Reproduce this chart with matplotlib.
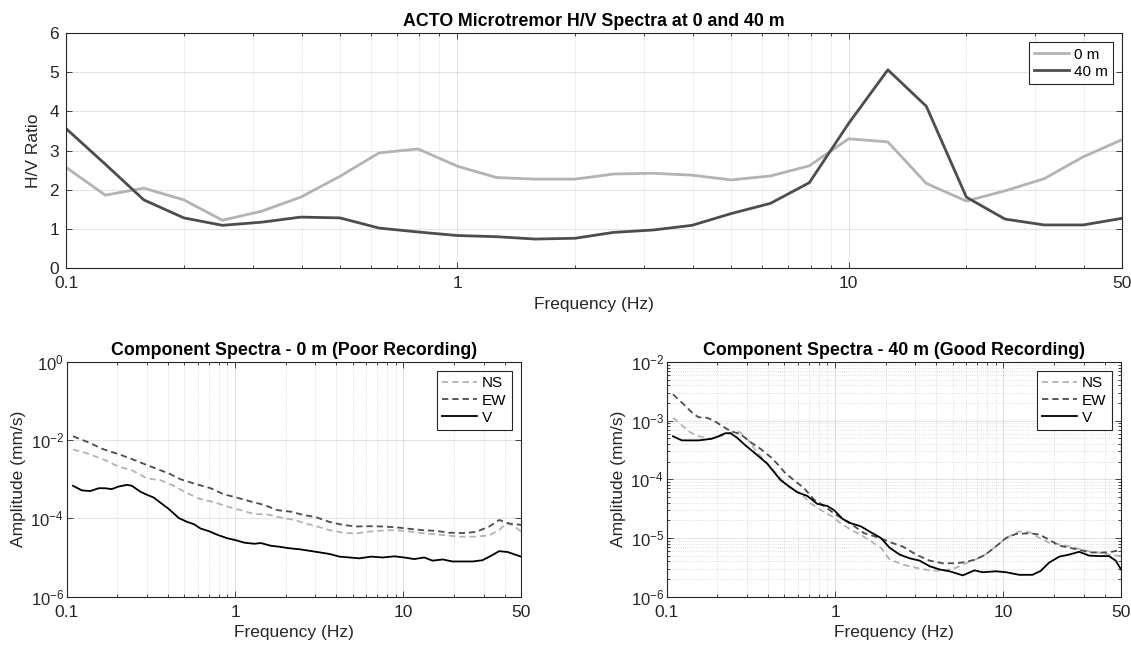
import matplotlib
matplotlib.use("Agg")
import matplotlib.pyplot as plt
from matplotlib.ticker import FixedLocator, LogLocator, NullFormatter, LogFormatterSciNotation

# Curvas H/V (pontos a cada 0.1 decada)
freq_hv = [0.1, 0.126, 0.158, 0.2, 0.251, 0.316, 0.398, 0.501, 0.631, 0.794,
           1.0, 1.26, 1.58, 2.0, 2.51, 3.16, 3.98, 5.01, 6.31, 7.94,
           10.0, 12.6, 15.8, 20.0, 25.1, 31.6, 39.8, 50.1]
hv_0m = [2.57, 1.86, 2.04, 1.74, 1.22, 1.45, 1.81, 2.34, 2.94, 3.04,
         2.60, 2.31, 2.27, 2.27, 2.40, 2.42, 2.37, 2.25, 2.35, 2.61,
         3.30, 3.22, 2.16, 1.71, 1.97, 2.28, 2.84, 3.28]
hv_40m = [3.56, 2.65, 1.74, 1.28, 1.09, 1.17, 1.30, 1.28, 1.02, 0.92,
          0.83, 0.80, 0.74, 0.76, 0.91, 0.97, 1.09, 1.39, 1.65, 2.18,
          3.69, 5.06, 4.13, 1.81, 1.25, 1.10, 1.10, 1.27]

# Espectros 0 m
f_ns0 = [0.109, 0.132, 0.166, 0.203, 0.244, 0.300, 0.361, 0.432, 0.520, 0.624,
         0.750, 0.900, 1.08, 1.30, 1.56, 1.87, 2.25, 2.53, 3.03, 3.64,
         4.37, 5.24, 6.28, 7.53, 9.06, 10.9, 13.0, 15.6, 18.7, 22.5,
         27.0, 32.4, 37.1, 40.6, 44.5, 50.0]
ns_0m = [5.8e-3, 4.6e-3, 3.2e-3, 2.1e-3, 1.7e-3, 1.05e-3, 9.5e-4, 6.8e-4, 4.4e-4, 3.1e-4,
         2.6e-4, 2.0e-4, 1.62e-4, 1.29e-4, 1.26e-4, 1.05e-4, 9.1e-5, 7.8e-5, 6.3e-5, 5.0e-5,
         4.3e-5, 4.1e-5, 4.6e-5, 4.9e-5, 5.0e-5, 4.6e-5, 4.2e-5, 3.9e-5, 3.6e-5, 3.4e-5,
         3.4e-5, 3.7e-5, 5.0e-5, 7.4e-5, 6.8e-5, 4.6e-5]
f_ew0 = [0.109, 0.132, 0.166, 0.203, 0.239, 0.300, 0.404, 0.474, 0.569, 0.716,
         0.859, 1.0, 1.24, 1.49, 1.79, 2.15, 2.53, 3.03, 3.64, 4.37,
         5.24, 6.28, 7.53, 9.06, 10.9, 13.0, 15.6, 18.7, 22.5, 27.0,
         32.4, 37.1, 42.5, 50.0]
ew_0m = [1.26e-2, 9.1e-3, 5.8e-3, 4.4e-3, 3.4e-3, 2.3e-3, 1.41e-3, 1.0e-3, 7.8e-4, 5.9e-4,
         4.1e-4, 3.5e-4, 2.7e-4, 2.2e-4, 1.62e-4, 1.48e-4, 1.23e-4, 1.07e-4, 8.1e-5, 6.8e-5,
         6.2e-5, 6.3e-5, 6.2e-5, 5.9e-5, 5.4e-5, 5.0e-5, 4.8e-5, 4.3e-5, 4.2e-5, 4.5e-5,
         6.2e-5, 9.1e-5, 7.4e-5, 6.8e-5]
f_v0 = [0.109, 0.123, 0.138, 0.155, 0.169, 0.185, 0.203, 0.228, 0.244, 0.274,
        0.300, 0.329, 0.361, 0.404, 0.463, 0.520, 0.569, 0.624, 0.700, 0.785,
        0.900, 1.0, 1.13, 1.30, 1.42, 1.63, 1.87, 2.05, 2.42, 2.77,
        3.18, 3.64, 4.18, 4.79, 5.48, 6.43, 7.53, 8.85, 10.1, 11.6,
        13.3, 14.9, 17.1, 19.6, 22.5, 25.8, 29.5, 33.1, 37.1, 41.6, 50.0]
v_0m = [6.8e-4, 5.2e-4, 5.0e-4, 5.9e-4, 5.9e-4, 5.6e-4, 6.5e-4, 7.2e-4, 6.8e-4, 4.8e-4,
        4.0e-4, 3.4e-4, 2.5e-4, 1.74e-4, 1.02e-4, 8.1e-5, 7.1e-5, 5.5e-5, 4.7e-5, 3.8e-5,
        3.1e-5, 2.8e-5, 2.4e-5, 2.24e-5, 2.34e-5, 2.0e-5, 1.86e-5, 1.74e-5, 1.62e-5, 1.48e-5,
        1.35e-5, 1.23e-5, 1.05e-5, 1.0e-5, 9.5e-6, 1.05e-5, 1.0e-5, 1.07e-5, 1.0e-5, 9.1e-6,
        1.0e-5, 8.3e-6, 8.9e-6, 7.9e-6, 7.9e-6, 7.9e-6, 8.5e-6, 1.1e-5, 1.45e-5, 1.38e-5, 1.05e-5]

# Espectros 40 m
f_ns40 = [0.109, 0.123, 0.138, 0.155, 0.181, 0.218, 0.250, 0.274, 0.300, 0.344,
          0.414, 0.474, 0.544, 0.624, 0.716, 0.822, 0.944, 1.08, 1.24, 1.42,
          1.63, 1.87, 2.11, 2.53, 3.03, 3.64, 4.37, 5.24, 6.0, 6.85,
          7.83, 9.04, 10.4, 12.4, 14.3, 16.4, 18.7, 21.5, 24.6, 28.2,
          32.3, 37.0, 42.4, 50.0]
ns_40m = [1.12e-3, 8.3e-4, 6.3e-4, 5.4e-4, 4.9e-4, 5.6e-4, 6.5e-4, 6.3e-4, 4.9e-4, 2.9e-4,
          1.62e-4, 1.03e-4, 7.0e-5, 5.8e-5, 3.9e-5, 3.0e-5, 2.4e-5, 1.78e-5, 1.38e-5, 1.14e-5,
          8.8e-6, 6.8e-6, 4.3e-6, 3.5e-6, 3.1e-6, 2.8e-6, 2.75e-6, 3.1e-6, 3.7e-6, 4.3e-6,
          5.2e-6, 7.2e-6, 1.0e-5, 1.29e-5, 1.25e-5, 1.0e-5, 8.3e-6, 7.8e-6, 7.2e-6, 6.5e-6,
          5.9e-6, 5.6e-6, 5.2e-6, 4.9e-6]
f_ew40 = [0.109, 0.126, 0.144, 0.155, 0.173, 0.190, 0.208, 0.228, 0.244, 0.274,
          0.314, 0.361, 0.414, 0.453, 0.508, 0.569, 0.653, 0.750, 0.859, 0.990,
          1.13, 1.30, 1.49, 1.71, 1.96, 2.11, 2.53, 3.03, 3.64, 4.37,
          5.24, 6.0, 6.85, 7.83, 9.04, 10.4, 11.9, 14.3, 16.4, 18.7,
          21.5, 24.6, 28.2, 32.3, 37.0, 42.4, 50.0]
ew_40m = [2.8e-3, 1.9e-3, 1.3e-3, 1.14e-3, 1.12e-3, 1.0e-3, 8.5e-4, 7.2e-4, 6.5e-4, 5.9e-4,
          4.3e-4, 3.3e-4, 2.4e-4, 1.85e-4, 1.26e-4, 9.7e-5, 7.1e-5, 4.5e-5, 3.5e-5, 2.6e-5,
          2.04e-5, 1.58e-5, 1.2e-5, 1.07e-5, 9.3e-6, 8.5e-6, 7.1e-6, 5.2e-6, 4.1e-6, 3.7e-6,
          3.7e-6, 3.9e-6, 4.3e-6, 5.2e-6, 7.2e-6, 1.0e-5, 1.17e-5, 1.2e-5, 1.14e-5, 9.3e-6,
          7.4e-6, 6.8e-6, 6.3e-6, 5.7e-6, 5.6e-6, 5.7e-6, 6.2e-6]
f_v40 = [0.109, 0.123, 0.155, 0.185, 0.203, 0.223, 0.239, 0.262, 0.293, 0.344,
         0.395, 0.433, 0.474, 0.532, 0.596, 0.684, 0.785, 0.900, 0.990, 1.11,
         1.24, 1.42, 1.63, 1.87, 2.11, 2.42, 2.77, 3.18, 3.64, 4.18,
         4.79, 5.74, 6.73, 7.54, 9.04, 10.4, 12.4, 14.9, 16.7, 18.7,
         21.5, 24.6, 28.2, 32.3, 37.0, 42.4, 46.5, 50.0]
v_40m = [5.4e-4, 4.6e-4, 4.6e-4, 4.9e-4, 5.4e-4, 6.1e-4, 6.1e-4, 5.1e-4, 3.8e-4, 2.6e-4,
         1.85e-4, 1.34e-4, 9.7e-5, 7.6e-5, 6.0e-5, 5.2e-5, 3.8e-5, 3.5e-5, 2.95e-5, 2.1e-5,
         1.78e-5, 1.58e-5, 1.25e-5, 1.0e-5, 6.8e-6, 5.2e-6, 4.5e-6, 4.1e-6, 3.3e-6, 2.9e-6,
         2.7e-6, 2.3e-6, 2.8e-6, 2.6e-6, 2.7e-6, 2.6e-6, 2.35e-6, 2.35e-6, 2.75e-6, 3.8e-6,
         4.8e-6, 5.2e-6, 5.8e-6, 5.0e-6, 4.9e-6, 4.9e-6, 4.1e-6, 2.9e-6]

xticks = [0.1, 1, 10, 50]
xticklabels = ["0.1", "1", "10", "50"]

# Cores (estilo MATLAB em tons de cinza)
cor_clara = (0.70, 0.70, 0.70)
cor_escura = (0.30, 0.30, 0.30)
cor_eixo = (0.15, 0.15, 0.15)
tracejado = (0, (3.5, 2.2))

plt.rcParams['font.family'] = ['Liberation Sans', 'DejaVu Sans']
plt.rcParams['mathtext.fontset'] = 'custom'
plt.rcParams['mathtext.rm'] = 'Liberation Sans'
plt.rcParams['axes.edgecolor'] = cor_eixo
plt.rcParams['xtick.color'] = cor_eixo
plt.rcParams['ytick.color'] = cor_eixo
plt.rcParams['axes.labelcolor'] = cor_eixo

fig = plt.figure(figsize=(11.31, 6.46), dpi=100)
ax_top = fig.add_axes([0.0584, 0.5851, 0.9337, 0.3638])
ax_bl = fig.add_axes([0.0590, 0.0765, 0.4017, 0.3632])
ax_br = fig.add_axes([0.5895, 0.0765, 0.4017, 0.3632])


def estilo_eixo(ax):
    ax.set_xscale('log')
    ax.set_xlim(0.1, 50)
    ax.xaxis.set_major_locator(FixedLocator(xticks))
    ax.set_xticklabels(xticklabels)
    ax.xaxis.set_minor_locator(LogLocator(base=10, subs=range(2, 10), numticks=20))
    ax.xaxis.set_minor_formatter(NullFormatter())
    ax.tick_params(which='both', direction='in', top=True, right=True,
                   labelsize=12.5, width=0.6)
    ax.tick_params(axis='x', which='major', length=4, pad=6)
    ax.tick_params(axis='y', which='major', length=4, pad=5)
    ax.tick_params(which='minor', length=2)
    for s in ax.spines.values():
        s.set_linewidth(0.8)
    ax.grid(which='major', axis='both', color=cor_eixo, alpha=0.12, linewidth=0.8)
    ax.grid(which='minor', axis='x', color=cor_eixo, alpha=0.2, linewidth=0.6, linestyle=':')
    ax.set_xlabel('Frequency (Hz)', fontsize=12.5, labelpad=4)


def legenda(ax, **kw):
    leg = ax.legend(loc='upper right', fontsize=11, fancybox=False, framealpha=1,
                    edgecolor=cor_eixo, handlelength=2.3, handletextpad=0.3,
                    borderpad=0.35, labelspacing=0.2, borderaxespad=0.6, **kw)
    leg.get_frame().set_linewidth(0.8)


# Painel superior: razao H/V
ax_top.plot(freq_hv, hv_0m, color=cor_clara, linewidth=2.0, label='0 m')
ax_top.plot(freq_hv, hv_40m, color=cor_escura, linewidth=2.0, label='40 m')
estilo_eixo(ax_top)
ax_top.set_ylim(0, 6)
ax_top.set_yticks(range(0, 7))
ax_top.set_ylabel('H/V Ratio', fontsize=12.5, labelpad=6)
ax_top.set_title('ACTO Microtremor H/V Spectra at 0 and 40 m', fontsize=12.8,
                 fontweight='bold', pad=5)
legenda(ax_top)

# Painel inferior esquerdo: 0 m
ax_bl.plot(f_ns0, ns_0m, color=cor_clara, linewidth=1.3, linestyle=tracejado, label='NS')
ax_bl.plot(f_ew0, ew_0m, color=cor_escura, linewidth=1.3, linestyle=tracejado, label='EW')
ax_bl.plot(f_v0, v_0m, color='black', linewidth=1.3, label='V')
estilo_eixo(ax_bl)
ax_bl.set_yscale('log')
ax_bl.set_ylim(1e-6, 1)
ax_bl.yaxis.set_major_locator(FixedLocator([1e-6, 1e-4, 1e-2, 1]))
ax_bl.yaxis.set_major_formatter(LogFormatterSciNotation())
ax_bl.yaxis.set_minor_locator(FixedLocator([]))
ax_bl.tick_params(axis='y', which='major', pad=2, labelsize=12)
ax_bl.set_ylabel('Amplitude (mm/s)', fontsize=12.5, labelpad=3)
ax_bl.set_title('Component Spectra - 0 m (Poor Recording)', fontsize=12.8,
                fontweight='bold', pad=5)
legenda(ax_bl)

# Painel inferior direito: 40 m
ax_br.plot(f_ns40, ns_40m, color=cor_clara, linewidth=1.3, linestyle=tracejado, label='NS')
ax_br.plot(f_ew40, ew_40m, color=cor_escura, linewidth=1.3, linestyle=tracejado, label='EW')
ax_br.plot(f_v40, v_40m, color='black', linewidth=1.3, label='V')
estilo_eixo(ax_br)
ax_br.set_yscale('log')
ax_br.set_ylim(1e-6, 1e-2)
ax_br.yaxis.set_major_locator(LogLocator(base=10, numticks=10))
ax_br.yaxis.set_major_formatter(LogFormatterSciNotation())
ax_br.yaxis.set_minor_locator(LogLocator(base=10, subs=range(2, 10), numticks=20))
ax_br.yaxis.set_minor_formatter(NullFormatter())
ax_br.grid(which='minor', axis='y', color=cor_eixo, alpha=0.2, linewidth=0.6, linestyle=':')
ax_br.tick_params(axis='y', which='major', pad=2, labelsize=12)
ax_br.set_ylabel('Amplitude (mm/s)', fontsize=12.5, labelpad=3)
ax_br.set_title('Component Spectra - 40 m (Good Recording)', fontsize=12.8,
                fontweight='bold', pad=5)
legenda(ax_br)

fig.savefig('out.png', dpi=100)
